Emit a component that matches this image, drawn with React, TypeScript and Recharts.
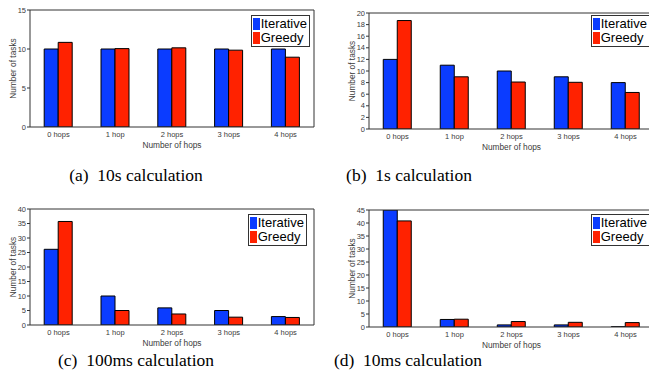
import React from 'react';
import { BarChart, Bar, XAxis, YAxis, Legend, Label } from 'recharts';

const categories = ['0 hops', '1 hop', '2 hops', '3 hops', '4 hops'];
const seriesNames = ['Iterative', 'Greedy'];

const iterA = [10, 10, 10, 10, 10];
const greedyA = [10.85, 10.05, 10.15, 9.85, 8.95];
const ticksA = [0, 5, 10, 15];

const iterB = [12, 11, 10, 9, 8];
const greedyB = [18.7, 9, 8.1, 8.05, 6.3];
const ticksB = [0, 2, 4, 6, 8, 10, 12, 14, 16, 18, 20];

const iterC = [26.1, 10, 5.9, 5, 2.9];
const greedyC = [35.7, 5, 3.8, 2.7, 2.6];
const ticksC = [0, 5, 10, 15, 20, 25, 30, 35, 40];

const iterD = [45, 2.9, 0.8, 0.8, 0.1];
const greedyD = [40.8, 3, 2.1, 1.8, 1.7];
const ticksD = [0, 5, 10, 15, 20, 25, 30, 35, 40, 45];

const halfTicks = [0, 0.5, 1, 1.5, 2, 2.5, 3, 3.5, 4, 4.5, 5];

const captions = ['(a)\u00a0\u00a010s calculation', '(b)\u00a0\u00a01s calculation', '(c)\u00a0\u00a0100ms calculation', '(d)\u00a0\u00a010ms calculation'];

const BLUE = '#0b3cff';
const RED = '#ff2200';
const AXIS = '#333333';
const SANS = '"Liberation Sans", Arial, Helvetica, sans-serif';

const renderLegend = (props: any) => {
  const payload = [...(props.payload || [])].sort(
    (a: any, b: any) => seriesNames.indexOf(a.value) - seriesNames.indexOf(b.value)
  );
  return (
    <div
      style={{
        border: '1px solid #333',
        background: '#fff',
        padding: '1px 2px 1px 1px',
        fontFamily: SANS,
        fontSize: 13,
        lineHeight: '14px',
        color: '#000',
        whiteSpace: 'nowrap',
      }}
    >
      {payload.map((e: any) => (
        <div key={e.value} style={{ display: 'flex', alignItems: 'center' }}>
          <span style={{ display: 'inline-block', width: 7, height: 12, background: e.color, marginRight: 1 }} />
          <span>{e.value}</span>
        </div>
      ))}
    </div>
  );
};

type PanelProps = {
  left: number;
  top: number;
  width: number;
  height: number;
  marginTop: number;
  marginRight: number;
  iter: number[];
  greedy: number[];
  yTicks: number[];
  legendTop: number;
  legendRight: number;
};

function Panel(p: PanelProps) {
  const data = categories.map((hop, i) => ({ hop, iterative: p.iter[i], greedy: p.greedy[i] }));
  const yMax = p.yTicks[p.yTicks.length - 1];
  return (
    <div style={{ position: 'absolute', left: p.left, top: p.top, width: p.width, height: p.height }}>
      <BarChart
        width={p.width}
        height={p.height}
        data={data}
        margin={{ top: p.marginTop, right: p.marginRight, left: 0, bottom: 0 }}
        barCategoryGap="25%"
        barGap={0}
      >
        <XAxis
          dataKey="hop"
          height={33}
          axisLine={{ stroke: AXIS }}
          tickLine={false}
          tickSize={3}
          tickMargin={2}
          interval={0}
          tick={{ fontSize: 7.5, fill: '#3a3a3a', fontFamily: SANS }}
        >
          <Label value="Number of hops" position="insideBottom" offset={12} style={{ fontSize: 8.3, fill: '#3a3a3a', fontFamily: SANS }} />
        </XAxis>
        <XAxis
          xAxisId="top"
          orientation="top"
          type="number"
          domain={[0, 5]}
          allowDataOverflow
          ticks={halfTicks}
          mirror
          tick={false}
          tickSize={3}
          axisLine={{ stroke: AXIS }}
          tickLine={{ stroke: AXIS }}
        />
        <XAxis
          xAxisId="bottomTicks"
          orientation="bottom"
          type="number"
          domain={[0, 5]}
          allowDataOverflow
          ticks={halfTicks}
          mirror
          tick={false}
          tickSize={3}
          axisLine={false}
          tickLine={{ stroke: AXIS }}
        />
        <YAxis
          width={30}
          domain={[0, yMax]}
          ticks={p.yTicks}
          interval={0}
          allowDataOverflow
          axisLine={{ stroke: AXIS }}
          tickLine={{ stroke: AXIS }}
          tickSize={3}
          tickMargin={1}
          tick={{ fontSize: 7.5, fill: '#3a3a3a', fontFamily: SANS }}
        >
          <Label
            value="Number of tasks"
            angle={-90}
            position="insideLeft"
            offset={13}
            style={{ fontSize: 8.3, fill: '#3a3a3a', fontFamily: SANS, textAnchor: 'middle' }}
          />
        </YAxis>
        <YAxis
          yAxisId="right"
          orientation="right"
          mirror
          domain={[0, yMax]}
          ticks={p.yTicks}
          interval={0}
          allowDataOverflow
          tick={false}
          tickSize={3}
          axisLine={{ stroke: AXIS }}
          tickLine={{ stroke: AXIS }}
        />
        <Legend
          content={renderLegend}
          layout="vertical"
          align="center"
          verticalAlign="middle"
          wrapperStyle={{ top: p.legendTop, right: p.legendRight, width: 'auto' }}
        />
        <Bar dataKey="iterative" name={seriesNames[0]} fill={BLUE} stroke="#000" strokeWidth={1} isAnimationActive={false} />
        <Bar dataKey="greedy" name={seriesNames[1]} fill={RED} stroke="#000" strokeWidth={1} isAnimationActive={false} />
      </BarChart>
    </div>
  );
}

const captionStyle: React.CSSProperties = {
  position: 'absolute',
  width: 300,
  textAlign: 'center',
  fontFamily: '"Liberation Serif", "Times New Roman", serif',
  fontSize: 17.5,
  lineHeight: '20px',
  color: '#000',
  whiteSpace: 'nowrap',
};

export default function App() {
  return (
    <div style={{ position: 'absolute', left: 0, top: 0, width: 649, height: 387, overflow: 'hidden', background: '#fff' }}>
      <Panel left={0} top={0} width={325} height={160} marginTop={10} marginRight={11} iter={iterA} greedy={greedyA} yTicks={ticksA} legendTop={15} legendRight={15} />
      <Panel left={339} top={0} width={326} height={162} marginTop={13} marginRight={11} iter={iterB} greedy={greedyB} yTicks={ticksB} legendTop={15} legendRight={15} />
      <Panel left={0} top={195} width={325} height={163} marginTop={14} marginRight={11} iter={iterC} greedy={greedyC} yTicks={ticksC} legendTop={19} legendRight={18} />
      <Panel left={339} top={195} width={326} height={165} marginTop={15} marginRight={11} iter={iterD} greedy={greedyD} yTicks={ticksD} legendTop={19} legendRight={15} />
      <div style={{ ...captionStyle, left: 136 - 150, top: 165 }}>{captions[0]}</div>
      <div style={{ ...captionStyle, left: 409 - 150, top: 165 }}>{captions[1]}</div>
      <div style={{ ...captionStyle, left: 136 - 150, top: 350 }}>{captions[2]}</div>
      <div style={{ ...captionStyle, left: 408 - 150, top: 350 }}>{captions[3]}</div>
    </div>
  );
}
